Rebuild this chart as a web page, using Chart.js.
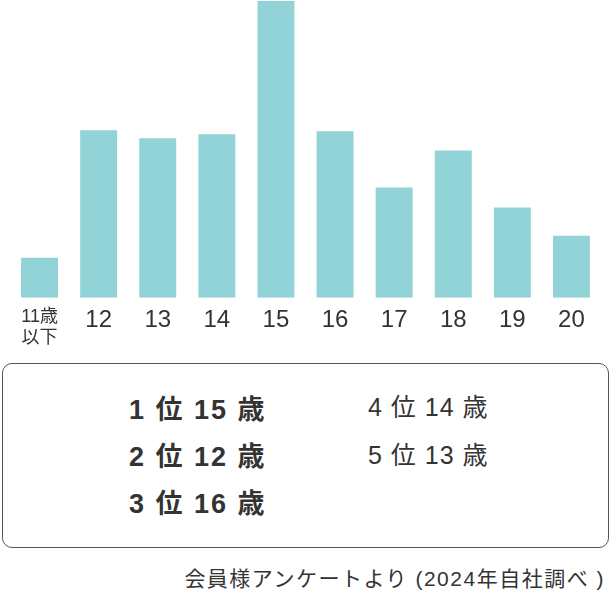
<!DOCTYPE html>
<html lang="ja">
<head>
<meta charset="utf-8">
<script src="https://cdn.jsdelivr.net/npm/chart.js@4/dist/chart.umd.min.js"></script>
<style>
    body { margin: 0; background: #fff; font-family: "Liberation Sans", "Noto Sans CJK JP", sans-serif; color: #333; }
    #wrap { position: relative; width: 611px; height: 594px; }
    #chartBox { position: absolute; left: 0; top: 0; width: 611px; height: 349px; }
    #rank { position: absolute; left: 2px; top: 363px; width: 605px; height: 183px; border: 1px solid #555; border-radius: 10px; }
    .item { position: absolute; font-size: 25px; letter-spacing: 1px; line-height: 30px; white-space: nowrap; }
    .item.top { font-weight: bold; font-size: 27px; letter-spacing: 2px; }
    #nota { position: absolute; right: 6px; top: 562px; font-size: 21px; letter-spacing: 1.5px; white-space: nowrap; }
</style>
</head>
<body>
<div id="wrap">
    <div id="chartBox"><canvas id="graficoEdad"></canvas></div>
    <div id="rank"></div>
    <div id="nota">会員様アンケートより (2024年自社調べ )</div>
</div>
<script>
// Edades (eje X) y porcentaje de respuestas (estimado desde la imagen)
const etiquetas = [["11歳", "以下"], "12", "13", "14", "15", "16", "17", "18", "19", "20"];
const valores = [4.0, 16.7, 15.9, 16.3, 29.6, 16.6, 11.0, 14.7, 9.0, 6.2];

// Ranking del cuadro inferior
const puestos = ["1位", "2位", "3位", "4位", "5位"];
const edadesRanking = ["15歳", "12歳", "16歳", "14歳", "13歳"];

document.addEventListener("DOMContentLoaded", function () {
    // Posiciones del ranking: tres a la izquierda, dos a la derecha
    const pos = [[126, 31], [126, 78], [126, 125], [365, 28], [365, 76]];
    const caja = document.getElementById("rank");
    puestos.forEach((p, i) => {
        const d = document.createElement("div");
        d.className = "item" + (i < 3 ? " top" : "");
        d.style.left = pos[i][0] + "px";
        d.style.top = pos[i][1] + "px";
        d.textContent = p.replace("位", " 位 ") + edadesRanking[i].replace("歳", " 歳");
        caja.appendChild(d);
    });

    const fuente = "'Liberation Sans', 'Noto Sans CJK JP', sans-serif";
    const ctx = document.getElementById("graficoEdad").getContext("2d");
    new Chart(ctx, {
        type: "bar",
        data: {
            labels: etiquetas,
            datasets: [{
                data: valores,
                backgroundColor: "#92d3d7",
                borderWidth: 0,
                barPercentage: 0.625,
                categoryPercentage: 1
            }]
        },
        options: {
            responsive: true,
            maintainAspectRatio: false,
            animation: false,
            layout: { padding: { left: 10, right: 10, top: 1, bottom: 0 } },
            plugins: { legend: { display: false }, tooltip: { enabled: false } },
            scales: {
                x: {
                    grid: { display: false },
                    border: { display: false },
                    ticks: {
                        color: "#333",
                        padding: 0,
                        maxRotation: 0,
                        autoSkip: false,
                        font: function (c) {
                            return c.index === 0
                                ? { size: 18, lineHeight: 1.2, family: fuente }
                                : { size: 24, lineHeight: 1.2, family: fuente };
                        }
                    }
                },
                y: { display: false, min: 0, max: 29.6 }
            }
        }
    });
});
</script>
</body>
</html>
